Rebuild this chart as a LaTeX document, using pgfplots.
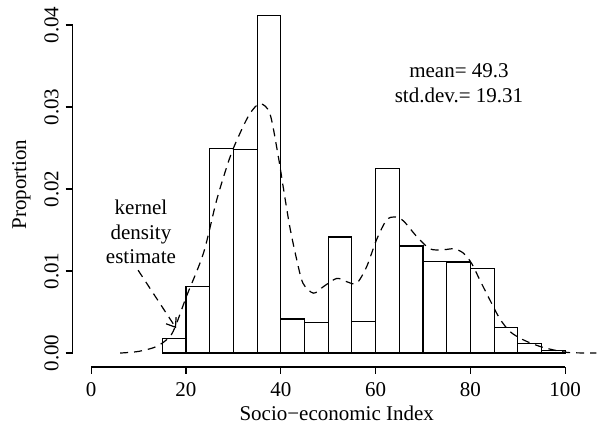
\documentclass[border=0pt]{standalone}
\usepackage{fontspec}
\setmainfont{Liberation Serif}
\usepackage{pgfplots}
\pgfplotsset{compat=1.18}
\usetikzlibrary{arrows.meta}

\begin{document}
\begin{tikzpicture}[font=\fontsize{10.5}{12.4}\selectfont]
\begin{axis}[
    width=264pt, height=182.5pt, scale only axis,
    xmin=-3.9, xmax=107.5, ymin=-0.0017, ymax=0.0428,
    axis x line*=bottom, axis y line*=left,
    axis line style={draw=none},
    xtick={0,20,40,60,80,100},
    ytick={0,0.01,0.02,0.03,0.04},
    tick align=outside, major tick length=3.5pt,
    tick style={black, line width=0.55pt},
    scaled y ticks=false,
    /pgf/number format/assume math mode=true,
    yticklabel style={rotate=90, anchor=south,
        /pgf/number format/.cd, fixed, fixed zerofill, precision=2},
    xticklabel style={yshift=-0.5pt},
    xlabel={Socio−economic Index},
    xlabel style={yshift=2pt},
    ylabel={Proportion},
    clip=false,
]
% histogram, 5-point bins
\addplot[ybar interval, fill=white, draw=black, line width=0.55pt] coordinates {
    (15,0.00174) (20,0.00813) (25,0.0249) (30,0.0248) (35,0.0411)
    (40,0.00415) (45,0.0037) (50,0.01415) (55,0.0038) (60,0.02252)
    (65,0.01305) (70,0.01113) (75,0.0111) (80,0.01033) (85,0.00309)
    (90,0.00114) (95,0.0003) (100,0.0003)
};
% kernel density
\addplot[black, line width=0.6pt, dash pattern=on 4pt off 3pt, smooth, tension=0.5] coordinates {
    (6.1,0) (10,0.0002) (13.8,0.0008) (16.6,0.002) (18,0.0036) (20.1,0.0069)
    (23.7,0.0122) (26.5,0.0187) (29.3,0.0239) (31.4,0.0268) (33.5,0.0292)
    (35.6,0.0304) (37.7,0.0292) (39.5,0.0239) (40.5,0.0203) (41.9,0.0154)
    (43.4,0.0113) (44.7,0.0085) (46.9,0.0073) (49,0.0081) (51.8,0.0091)
    (53.9,0.0087) (56,0.0085) (58.1,0.0105) (60.2,0.0138) (62.3,0.0162)
    (64.1,0.0166) (65.9,0.0161) (68.7,0.0142) (71.5,0.0127) (74.3,0.0126)
    (76.5,0.0127) (78.5,0.0122) (80.3,0.0109) (82,0.0089) (84.1,0.0065)
    (86.2,0.0042) (88.4,0.0026) (91.2,0.0016) (94.7,0.0008) (98.2,0.0003)
    (101,0.00005) (106.6,0)
};
% R-style axis lines spanning the tick range only
\draw[line width=0.55pt] (axis cs:0,-0.0017) -- (axis cs:100,-0.0017);
\draw[line width=0.55pt] (axis cs:-3.9,0) -- (axis cs:-3.9,0.04);

\node[align=center] at (axis cs:10.5,0.01476) {kernel\\density\\estimate};
\draw[line width=0.6pt, dash pattern=on 4pt off 3pt,
      -{Straight Barb[length=4pt,width=6pt]}]
    (axis cs:9.9,0.0101) -- (axis cs:17.9,0.00305);
\node[align=center] at (axis cs:77.6,0.0329) {mean= 49.3\\std.dev.= 19.31};
\end{axis}
\pgfresetboundingbox
\useasboundingbox (-36.35pt,-30pt) rectangle (264.65pt,183.5pt);
\end{tikzpicture}
\end{document}
